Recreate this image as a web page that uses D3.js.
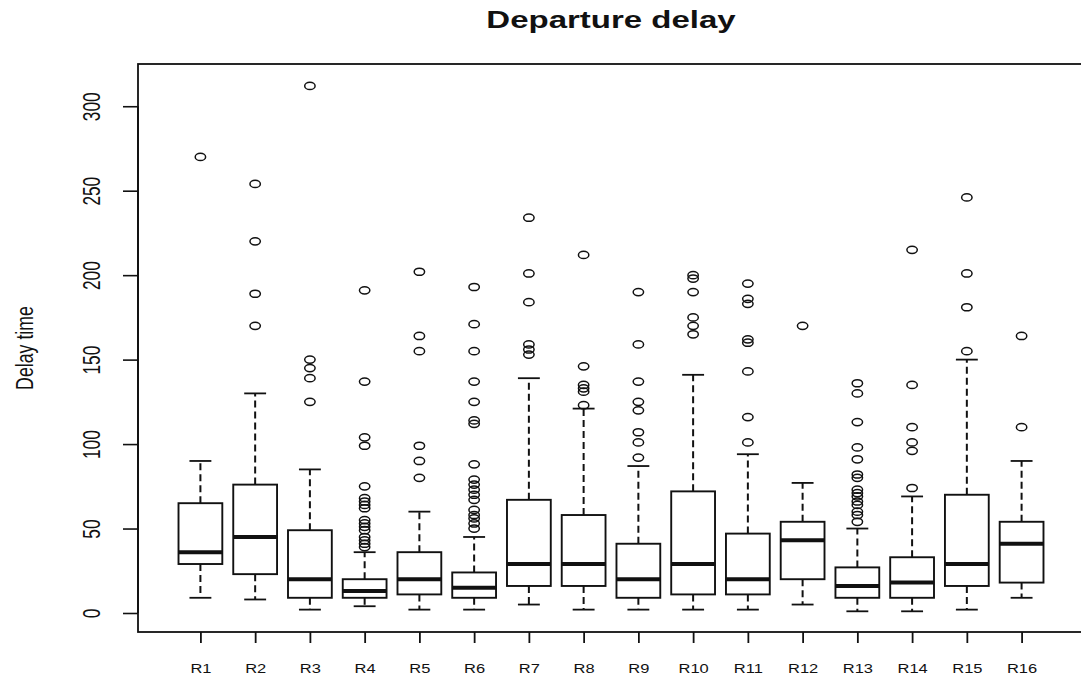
<!DOCTYPE html>
<html>
<head>
<meta charset="utf-8">
<script src="https://cdn.jsdelivr.net/npm/d3@7"></script>
<style>
  body { margin: 0; background: #fff; }
  text { font-family: "Liberation Sans", Arial, sans-serif; fill: #111; }
</style>
</head>
<body>
<script>
// boxplot stats
const regions = ["R1","R2","R3","R4","R5","R6","R7","R8","R9","R10","R11","R12","R13","R14","R15","R16"];
const lowerWhisker = [9, 8, 2, 4, 2, 2, 5, 2, 2, 2, 2, 5, 1, 1, 2, 9];
const q1 = [29, 23, 9, 9, 11, 9, 16, 16, 9, 11, 11, 20, 9, 9, 16, 18];
const medians = [36, 45, 20, 13, 20, 15, 29, 29, 20, 29, 20, 43, 16, 18, 29, 41];
const q3 = [65, 76, 49, 20, 36, 24, 67, 58, 41, 72, 47, 54, 27, 33, 70, 54];
const upperWhisker = [90, 130, 85, 36, 60, 45, 139, 121, 87, 141, 94, 77, 50, 69, 150, 90];
const outliers = [
  [270],
  [254, 220, 189, 170],
  [312, 150, 145, 139, 125],
  [191, 137, 104, 99, 75, 68, 66, 64, 62, 55, 53, 51, 49, 45, 43, 41, 39],
  [202, 164, 155, 99, 90, 80],
  [193, 171, 155, 137, 125, 114, 112, 88, 79, 76, 73, 70, 67, 61, 58, 56, 53, 50],
  [234, 201, 184, 159, 156, 153],
  [212, 146, 135, 133, 131, 123],
  [190, 159, 137, 125, 120, 107, 101, 92],
  [200, 198, 190, 175, 170, 165],
  [195, 186, 183, 162, 160, 143, 116, 101],
  [170],
  [136, 130, 113, 98, 91, 82, 80, 73, 71, 69, 66, 64, 60, 58, 54],
  [215, 135, 110, 101, 96, 74],
  [246, 201, 181, 155],
  [164, 110]
];
const yTicks = [0, 50, 100, 150, 200, 250, 300];

var width = 1081, height = 682;
var plot = { left: 138, right: 1084, top: 64, bottom: 632 };
var squeeze = 0.72; // the picture is flattened vertically

var rows = regions.map((r, i) => ({
  name: r, pos: i + 1,
  lo: lowerWhisker[i], q1: q1[i], med: medians[i], q3: q3[i], hi: upperWhisker[i],
  out: outliers[i]
}));

var x = d3.scaleLinear().domain([-0.14, regions.length + 1.14]).range([plot.left, plot.right]);
var y = d3.scaleLinear().domain([-11.25, 325]).range([plot.bottom, plot.top]);
var boxW = x(1.4) - x(1);  // half width of a box (0.8 wide)

var svg = d3.select("body").append("svg")
  .attr("width", width)
  .attr("height", height);

var ink = "#111";

// boxes
var g = svg.selectAll(".box")
  .data(rows)
  .enter()
  .append("g")
  .attr("class", "box");

// whiskers
g.append("line")
  .attr("x1", d => x(d.pos)).attr("x2", d => x(d.pos))
  .attr("y1", d => y(d.q3)).attr("y2", d => y(d.hi))
  .attr("stroke", ink).attr("stroke-width", 2).attr("stroke-dasharray", "7,4");
g.append("line")
  .attr("x1", d => x(d.pos)).attr("x2", d => x(d.pos))
  .attr("y1", d => y(d.q1)).attr("y2", d => y(d.lo))
  .attr("stroke", ink).attr("stroke-width", 2).attr("stroke-dasharray", "7,4");

// caps
g.append("line")
  .attr("x1", d => x(d.pos) - boxW / 2).attr("x2", d => x(d.pos) + boxW / 2)
  .attr("y1", d => y(d.hi)).attr("y2", d => y(d.hi))
  .attr("stroke", ink).attr("stroke-width", 1.8);
g.append("line")
  .attr("x1", d => x(d.pos) - boxW / 2).attr("x2", d => x(d.pos) + boxW / 2)
  .attr("y1", d => y(d.lo)).attr("y2", d => y(d.lo))
  .attr("stroke", ink).attr("stroke-width", 1.8);

g.append("rect")
  .attr("x", d => x(d.pos) - boxW)
  .attr("width", boxW * 2)
  .attr("y", d => y(d.q3))
  .attr("height", d => y(d.q1) - y(d.q3))
  .attr("fill", "#fff")
  .attr("stroke", ink).attr("stroke-width", 1.9);

g.append("line")
  .attr("x1", d => x(d.pos) - boxW).attr("x2", d => x(d.pos) + boxW)
  .attr("y1", d => y(d.med)).attr("y2", d => y(d.med))
  .attr("stroke", ink).attr("stroke-width", 4);

// outliers
g.selectAll("ellipse")
  .data(d => d.out.map(v => ({ pos: d.pos, v: v })))
  .enter()
  .append("ellipse")
  .attr("cx", d => x(d.pos))
  .attr("cy", d => y(d.v))
  .attr("rx", 5.2)
  .attr("ry", 3.6)
  .attr("fill", "none")
  .attr("stroke", ink)
  .attr("stroke-width", 1.5);

// frame (right side falls off the picture)
svg.append("rect")
  .attr("x", plot.left).attr("y", plot.top)
  .attr("width", plot.right - plot.left).attr("height", plot.bottom - plot.top)
  .attr("fill", "none").attr("stroke", ink).attr("stroke-width", 1.8);

// y axis
var yAxis = svg.append("g")
  .attr("transform", "translate(" + plot.left + ",0)")
  .call(d3.axisLeft(y).tickValues(yTicks).tickSize(15).tickSizeOuter(0));
yAxis.select(".domain")
  .attr("d", "M0," + y(0) + "V" + y(300))
  .attr("stroke", ink).attr("stroke-width", 1.8);
yAxis.selectAll(".tick line").attr("stroke", ink).attr("stroke-width", 1.6);
yAxis.selectAll(".tick text")
  .attr("x", 0).attr("y", 0).attr("dy", 0)
  .attr("text-anchor", "middle")
  .attr("transform", "translate(-38,0) rotate(-90) scale(" + squeeze + ",1)")
  .style("font-size", "24px")
  .style("font-family", "'Liberation Sans', Arial, sans-serif")
  .attr("fill", "#222");

// x axis
var xAxis = svg.append("g")
  .attr("transform", "translate(0," + plot.bottom + ")")
  .call(d3.axisBottom(x).tickValues(rows.map(d => d.pos)).tickSize(11).tickSizeOuter(0)
    .tickFormat((d, i) => regions[i]));
xAxis.select(".domain").remove();
xAxis.selectAll(".tick line").attr("stroke", ink).attr("stroke-width", 1.8);
xAxis.selectAll(".tick text")
  .attr("y", 0).attr("dy", 0)
  .attr("transform", "translate(0,41) scale(1," + squeeze + ")")
  .style("font-size", "16.5px")
  .style("font-family", "'Liberation Sans', Arial, sans-serif")
  .attr("fill", "#222");

// title
svg.append("text")
  .attr("text-anchor", "middle")
  .attr("transform", "translate(" + ((plot.left + plot.right) / 2) + ",28) scale(1,0.7)")
  .style("font-size", "33px")
  .style("font-weight", "bold")
  .text("Departure delay");

// y label
svg.append("text")
  .attr("text-anchor", "middle")
  .attr("transform", "translate(33," + ((plot.top + plot.bottom) / 2) + ") rotate(-90) scale(0.74,1)")
  .style("font-size", "24px")
  .attr("fill", "#222")
  .text("Delay time");
</script>
</body>
</html>
